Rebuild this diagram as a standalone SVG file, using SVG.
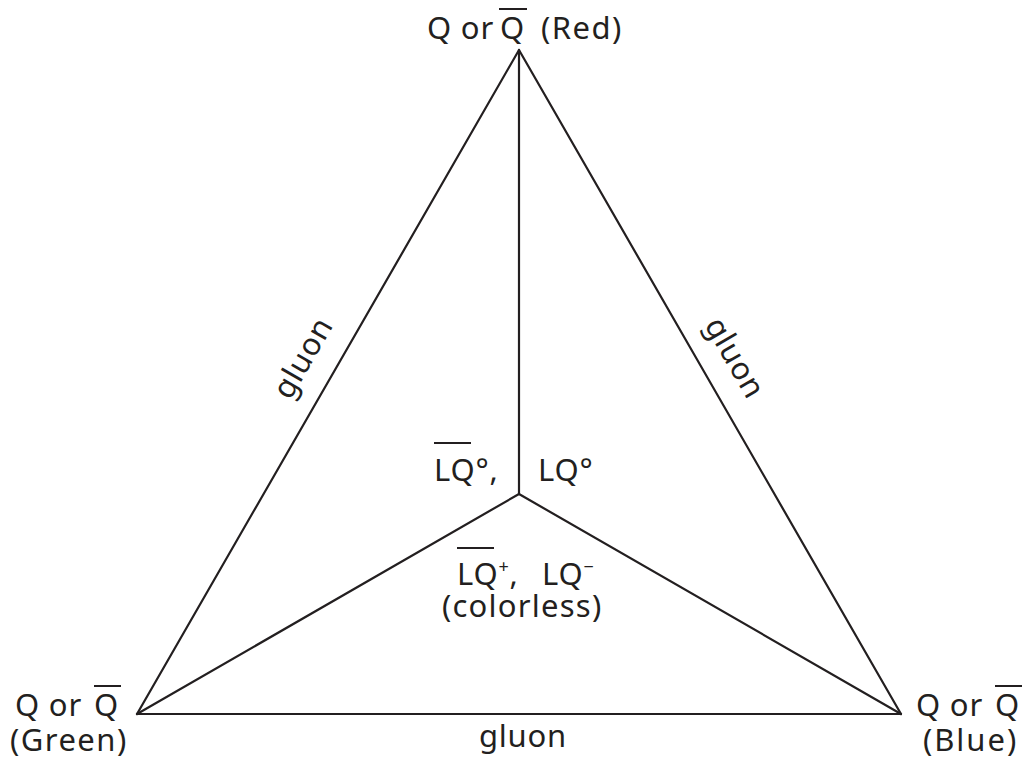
<svg xmlns="http://www.w3.org/2000/svg" width="1024" height="761" viewBox="0 0 1024 761">
<style>
text{font-family:"Noto Sans","Open Sans",sans-serif;font-size:31px;fill:#231f20;letter-spacing:0.8px}
.e{stroke:#231f20;stroke-width:2.2;fill:none;stroke-linecap:round}
.o{stroke:#231f20;stroke-width:2;fill:none}
.s{font-size:18px}
</style>
<rect width="1024" height="761" fill="#fff"/>
<g id="connectors">
<line class="e" x1="519" y1="50" x2="137" y2="714"/>
<line class="e" x1="519" y1="50" x2="901" y2="714"/>
<line class="e" x1="137" y1="714" x2="901" y2="714"/>
<line class="e" x1="519" y1="50" x2="519" y2="494"/>
<line class="e" x1="519" y1="494" x2="137" y2="714"/>
<line class="e" x1="519" y1="494" x2="901" y2="714"/>
<text transform="translate(312,363) rotate(-60)" text-anchor="middle" textLength="88" lengthAdjust="spacing">gluon</text>
<text transform="translate(726,363) rotate(60)" text-anchor="middle" textLength="88" lengthAdjust="spacing">gluon</text>
<text x="523" y="747" text-anchor="middle" textLength="88" lengthAdjust="spacing">gluon</text>
</g>
<g id="red">
<text x="427" y="39">Q or</text>
<text x="500" y="39">Q</text>
<line class="o" x1="499" y1="9" x2="527" y2="9"/>
<text x="541" y="39" textLength="81" lengthAdjust="spacing">(Red)</text>
</g>
<g id="green">
<text x="15" y="716">Q or</text>
<text x="94" y="716">Q</text>
<line class="o" x1="94" y1="686" x2="121" y2="686"/>
<text x="10" y="751" textLength="117" lengthAdjust="spacing">(Green)</text>
</g>
<g id="blue">
<text x="916" y="716">Q or</text>
<text x="995" y="716">Q</text>
<line class="o" x1="995" y1="686" x2="1022" y2="686"/>
<text x="923" y="751" textLength="94" lengthAdjust="spacing">(Blue)</text>
</g>
<g id="center">
<text x="434" y="481">LQ°,</text>
<line class="o" x1="434" y1="443" x2="471" y2="443"/>
<text x="538" y="481">LQ°</text>
<text x="457" y="585">LQ<tspan class="s" dy="-12">+</tspan><tspan dy="12">,</tspan><tspan x="542">LQ</tspan><tspan class="s" dy="-12">−</tspan></text>
<line class="o" x1="457" y1="548" x2="494" y2="548"/>
<text x="522" y="617" text-anchor="middle" textLength="160" lengthAdjust="spacing">(colorless)</text>
</g>
</svg>
